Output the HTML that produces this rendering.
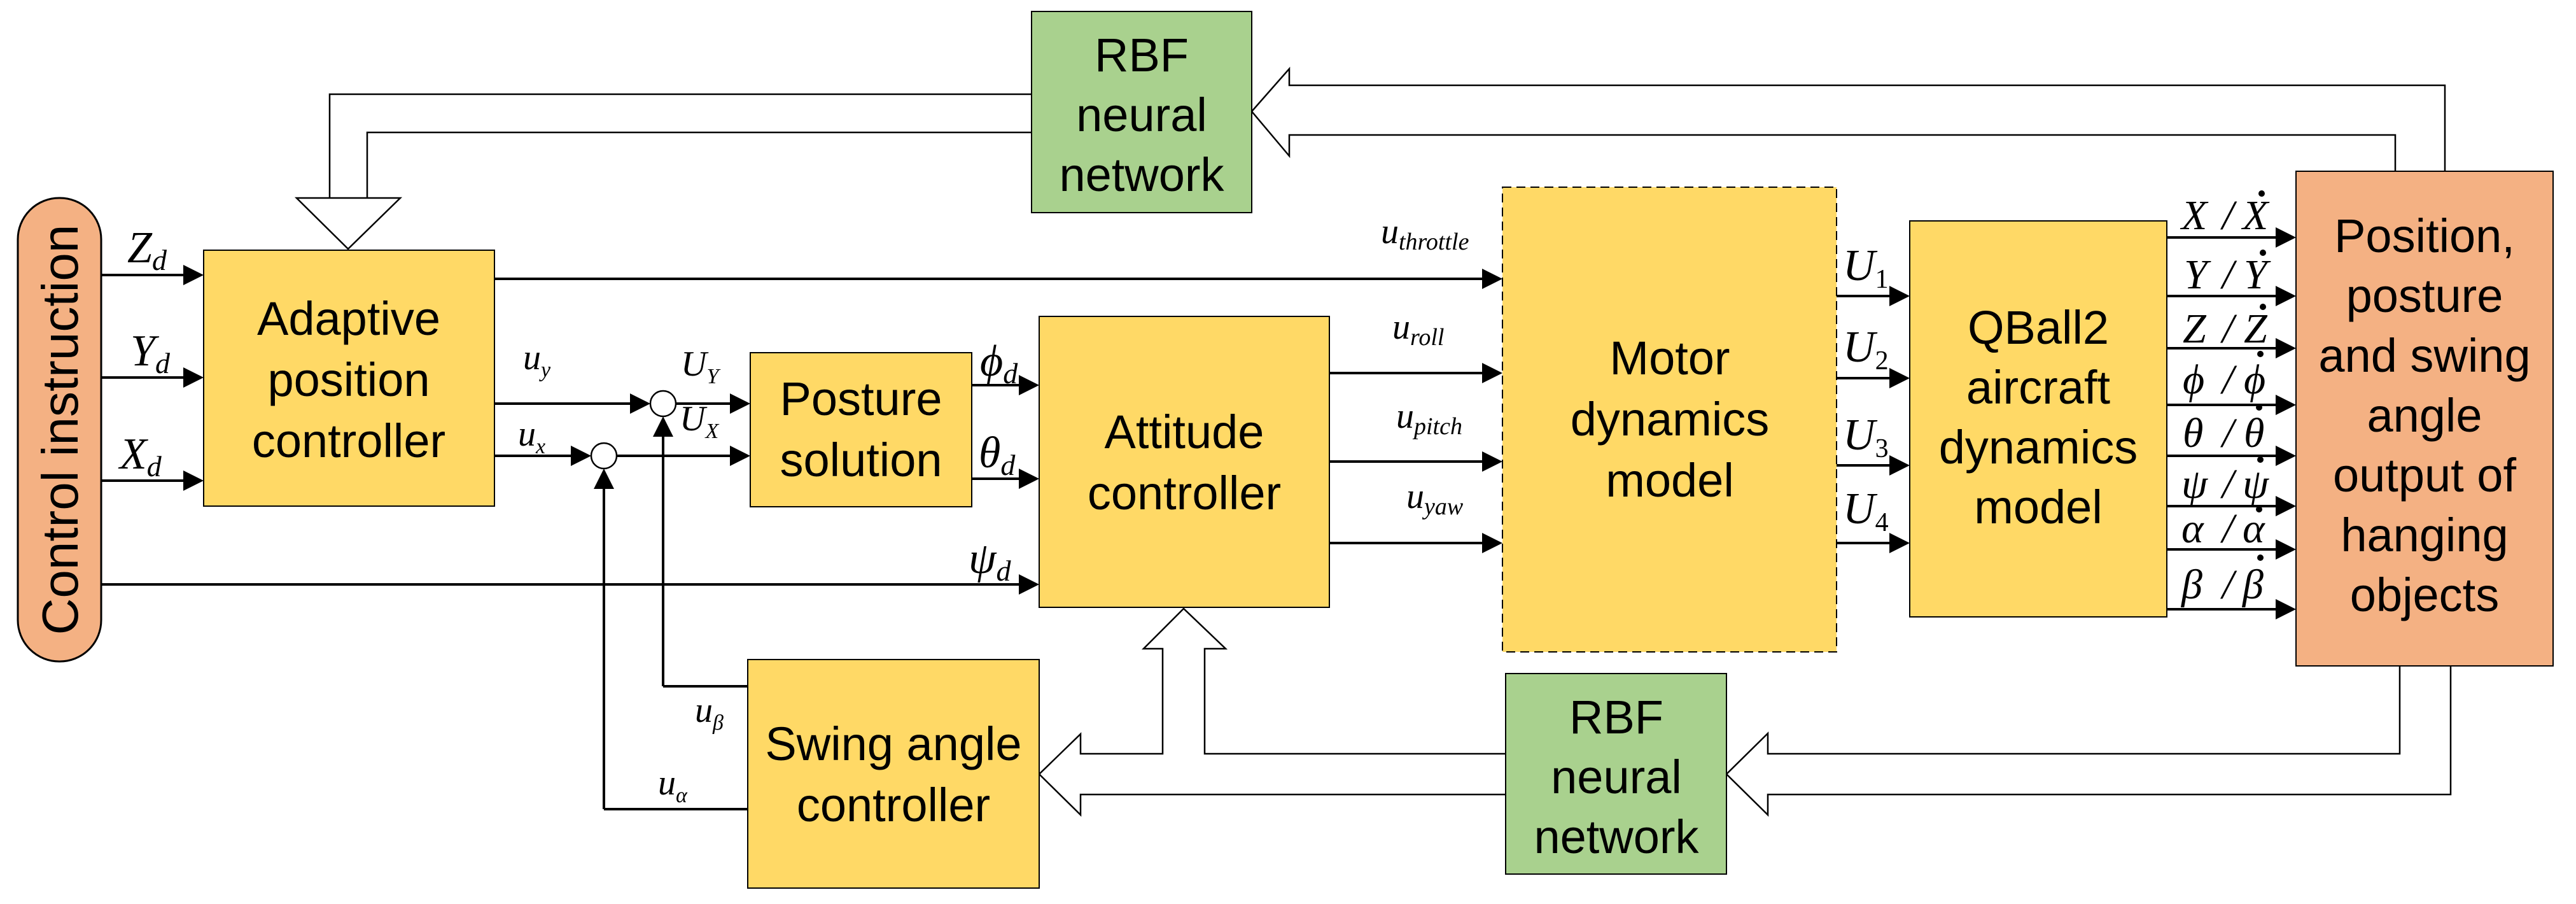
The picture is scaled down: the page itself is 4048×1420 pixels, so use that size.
<!DOCTYPE html>
<html><head><meta charset="utf-8">
<style>
html,body{margin:0;padding:0;background:#fff;}
svg{display:block;}
.bt{font-family:"Liberation Sans Narrow","Liberation Sans",sans-serif;font-size:74px;fill:#000;text-anchor:middle;}
.m{font-family:"Liberation Serif",serif;font-style:italic;fill:#000;}
</style></head><body>
<svg width="4048" height="1420" viewBox="0 0 4048 1420" xmlns="http://www.w3.org/2000/svg">
<g fill="none" stroke="#000" stroke-width="2.5">
<polyline points="1621,148 518,148 518,311"/>
<polyline points="1621,208 577,208 577,311"/>
<polygon points="466,311 629,311 547,391" fill="#fff"/>
<polyline points="3842,269 3842,134 2026,134 2026,108 1967,175 2026,245 2026,212 3764,212 3764,269" fill="#fff"/>
<polyline points="3771,1046 3771,1184 2778,1184 2778,1152 2713,1216 2778,1280 2778,1248 3851,1248 3851,1046" fill="#fff"/>
<polyline points="2366,1184 1893,1184 1893,1019 1926,1019 1860,956 1797,1019 1827,1019 1827,1184 1698,1184 1698,1153 1633,1216 1698,1280 1698,1248 2366,1248" fill="#fff"/>
</g>
<rect x="28" y="311" width="131" height="728" rx="65" fill="#f4b183" stroke="#000" stroke-width="3"/>
<rect x="1621" y="18" width="346" height="316" fill="#a9d18e" stroke="#000" stroke-width="2"/>
<rect x="2366" y="1058" width="347" height="315" fill="#a9d18e" stroke="#000" stroke-width="2"/>
<rect x="320" y="393" width="457" height="402" fill="#ffd966" stroke="#000" stroke-width="2"/>
<rect x="1179" y="554" width="348" height="242" fill="#ffd966" stroke="#000" stroke-width="2"/>
<rect x="1633" y="497" width="456" height="457" fill="#ffd966" stroke="#000" stroke-width="2"/>
<rect x="1175" y="1036" width="458" height="359" fill="#ffd966" stroke="#000" stroke-width="2"/>
<rect x="2361" y="294" width="525" height="730" fill="#ffd966" stroke="#000" stroke-width="2" stroke-dasharray="14,8"/>
<rect x="3001" y="347" width="404" height="622" fill="#ffd966" stroke="#000" stroke-width="2"/>
<rect x="3608" y="269" width="404" height="777" fill="#f4b183" stroke="#000" stroke-width="2"/>

<g stroke="#000" stroke-width="4" fill="none">
<line x1="159" y1="432" x2="290" y2="432"/>
<line x1="159" y1="593" x2="290" y2="593"/>
<line x1="159" y1="755" x2="290" y2="755"/>
<line x1="159" y1="918" x2="1603" y2="918"/>
<line x1="777" y1="438" x2="2331" y2="438"/>
<line x1="777" y1="634" x2="992" y2="634"/>
<line x1="1062" y1="634" x2="1149" y2="634"/>
<line x1="777" y1="716" x2="899" y2="716"/>
<line x1="969" y1="716" x2="1149" y2="716"/>
<line x1="1527" y1="605" x2="1603" y2="605"/>
<line x1="1527" y1="752" x2="1603" y2="752"/>
<line x1="1175" y1="1078" x2="1042" y2="1078"/>
<line x1="1042" y1="1078" x2="1042" y2="684"/>
<line x1="1175" y1="1271" x2="949" y2="1271"/>
<line x1="949" y1="1271" x2="949" y2="766"/>
<line x1="2089" y1="586" x2="2331" y2="586"/>
<line x1="2089" y1="725" x2="2331" y2="725"/>
<line x1="2089" y1="853" x2="2331" y2="853"/>
<line x1="2886" y1="465" x2="2971" y2="465"/>
<line x1="2886" y1="594" x2="2971" y2="594"/>
<line x1="2886" y1="731" x2="2971" y2="731"/>
<line x1="2886" y1="853" x2="2971" y2="853"/>
<line x1="3405" y1="373" x2="3578" y2="373"/>
<line x1="3405" y1="465" x2="3578" y2="465"/>
<line x1="3405" y1="547" x2="3578" y2="547"/>
<line x1="3405" y1="636" x2="3578" y2="636"/>
<line x1="3405" y1="716" x2="3578" y2="716"/>
<line x1="3405" y1="795" x2="3578" y2="795"/>
<line x1="3405" y1="863" x2="3578" y2="863"/>
<line x1="3405" y1="957" x2="3578" y2="957"/>
</g>
<circle cx="1042" cy="634" r="20" fill="#fff" stroke="#000" stroke-width="2.5"/>
<circle cx="949" cy="716" r="20" fill="#fff" stroke="#000" stroke-width="2.5"/>
<g fill="#000">
<polygon points="320,432 288,416 288,448"/>
<polygon points="320,593 288,577 288,609"/>
<polygon points="320,755 288,739 288,771"/>
<polygon points="1633,918 1601,902 1601,934"/>
<polygon points="2361,438 2329,422 2329,454"/>
<polygon points="1022,634 990,618 990,650"/>
<polygon points="1179,634 1147,618 1147,650"/>
<polygon points="929,716 897,700 897,732"/>
<polygon points="1179,716 1147,700 1147,732"/>
<polygon points="1633,605 1601,589 1601,621"/>
<polygon points="1633,752 1601,736 1601,768"/>
<polygon points="2361,586 2329,570 2329,602"/>
<polygon points="2361,725 2329,709 2329,741"/>
<polygon points="2361,853 2329,837 2329,869"/>
<polygon points="3001,465 2969,449 2969,481"/>
<polygon points="3001,594 2969,578 2969,610"/>
<polygon points="3001,731 2969,715 2969,747"/>
<polygon points="3001,853 2969,837 2969,869"/>
<polygon points="3608,373 3576,357 3576,389"/>
<polygon points="3608,465 3576,449 3576,481"/>
<polygon points="3608,547 3576,531 3576,563"/>
<polygon points="3608,636 3576,620 3576,652"/>
<polygon points="3608,716 3576,700 3576,732"/>
<polygon points="3608,795 3576,779 3576,811"/>
<polygon points="3608,863 3576,847 3576,879"/>
<polygon points="3608,957 3576,941 3576,973"/>
<polygon points="1042,654 1026,686 1058,686"/>
<polygon points="949,736 933,768 965,768"/>
</g>

<text class="bt" transform="translate(122,675) rotate(-90)" style="font-size:80px;font-family:'Liberation Sans',sans-serif">Control instruction</text>
<g class="bt">
<text x="1794" y="112">RBF</text>
<text x="1794" y="206">neural</text>
<text x="1794" y="300">network</text>
<text x="2540" y="1152">RBF</text>
<text x="2540" y="1246">neural</text>
<text x="2540" y="1340">network</text>
<text x="548" y="526">Adaptive</text>
<text x="548" y="622">position</text>
<text x="548" y="718">controller</text>
<text x="1353" y="652">Posture</text>
<text x="1353" y="748">solution</text>
<text x="1861" y="704">Attitude</text>
<text x="1861" y="800">controller</text>
<text x="1404" y="1194">Swing angle</text>
<text x="1404" y="1290">controller</text>
<text x="2624" y="588">Motor</text>
<text x="2624" y="684">dynamics</text>
<text x="2624" y="780">model</text>
<text x="3203" y="540">QBall2</text>
<text x="3203" y="634">aircraft</text>
<text x="3203" y="728">dynamics</text>
<text x="3203" y="822">model</text>
<text x="3810" y="396">Position,</text>
<text x="3810" y="490">posture</text>
<text x="3810" y="584">and swing</text>
<text x="3810" y="678">angle</text>
<text x="3810" y="772">output of</text>
<text x="3810" y="866">hanging</text>
<text x="3810" y="960">objects</text>
</g>

<g class="m" font-size="70">
<text x="200" y="412">Z<tspan font-size="46" dy="12">d</tspan></text>
<text x="205" y="574">Y<tspan font-size="46" dy="12">d</tspan></text>
<text x="188" y="736">X<tspan font-size="46" dy="12">d</tspan></text>
<text x="1540" y="590">ϕ<tspan font-size="46" dy="12">d</tspan></text>
<text x="1538" y="734">θ<tspan font-size="46" dy="12">d</tspan></text>
<text x="1522" y="900">ψ<tspan font-size="46" dy="12">d</tspan></text>
<text x="2896" y="440">U<tspan font-size="42" dy="12" font-style="normal">1</tspan></text>
<text x="2896" y="568">U<tspan font-size="42" dy="12" font-style="normal">2</tspan></text>
<text x="2896" y="706">U<tspan font-size="42" dy="12" font-style="normal">3</tspan></text>
<text x="2896" y="822">U<tspan font-size="42" dy="12" font-style="normal">4</tspan></text>
</g>
<g class="m" font-size="56">
<text x="822" y="580">u<tspan font-size="34" dy="12">y</tspan></text>
<text x="814" y="700">u<tspan font-size="34" dy="12">x</tspan></text>
<text x="1070" y="590">U<tspan font-size="34" dy="12">Y</tspan></text>
<text x="1068" y="676">U<tspan font-size="34" dy="12">X</tspan></text>
<text x="1092" y="1134">u<tspan font-size="34" dy="12">β</tspan></text>
<text x="1034" y="1248">u<tspan font-size="34" dy="12">α</tspan></text>
<text x="2170" y="382">u<tspan font-size="38" dy="10">throttle</tspan></text>
<text x="2188" y="532">u<tspan font-size="38" dy="10">roll</tspan></text>
<text x="2194" y="672">u<tspan font-size="38" dy="10">pitch</tspan></text>
<text x="2210" y="798">u<tspan font-size="38" dy="10">yaw</tspan></text>
</g>
<g class="m" font-size="66">
<text x="3428" y="360">X</text><text x="3492" y="360">/</text><text x="3524" y="360">X</text>
<text x="3432" y="453">Y</text><text x="3492" y="453">/</text><text x="3526" y="453">Y</text>
<text x="3430" y="538">Z</text><text x="3492" y="538">/</text><text x="3526" y="538">Z</text>
<text x="3430" y="618">ϕ</text><text x="3492" y="618">/</text><text x="3526" y="618">ϕ</text>
<text x="3430" y="702">θ</text><text x="3492" y="702">/</text><text x="3526" y="702">θ</text>
<text x="3428" y="782">ψ</text><text x="3492" y="782">/</text><text x="3524" y="782">ψ</text>
<text x="3428" y="852">α</text><text x="3492" y="852">/</text><text x="3524" y="852">α</text>
<text x="3428" y="940">β</text><text x="3492" y="940">/</text><text x="3524" y="940">β</text>
</g>
<g fill="#000">
<circle cx="3554" cy="304" r="5"/>
<circle cx="3556" cy="397" r="5"/>
<circle cx="3556" cy="482" r="5"/>
<circle cx="3552" cy="556" r="5"/>
<circle cx="3550" cy="640" r="5"/>
<circle cx="3552" cy="722" r="5"/>
<circle cx="3550" cy="800" r="5"/>
<circle cx="3552" cy="876" r="5"/>
</g>
</svg>
</body></html>
